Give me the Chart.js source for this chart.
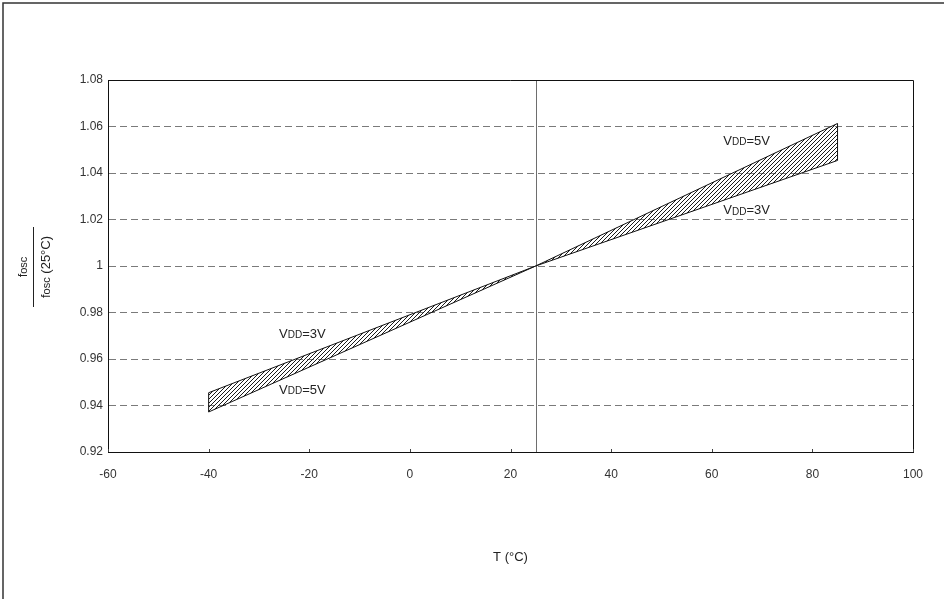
<!DOCTYPE html>
<html>
<head>
<meta charset="utf-8">
<script src="https://cdn.jsdelivr.net/npm/chart.js@4.4.0/dist/chart.umd.min.js"></script>
<style>
html,body{margin:0;padding:0;background:#fff;}
#wrap{width:944px;height:599px;position:relative;}
</style>
</head>
<body>
<div id="wrap"><canvas id="c" width="944" height="599"></canvas></div>
<script>
// ---- data ----
const temps = [-40, 25, 85];
const vdd3 = [0.9455, 1.000, 1.0454];
const vdd5 = [0.9372, 1.000, 1.0613];
const xTicks = [-60, -40, -20, 0, 20, 40, 60, 80, 100];
const yTicks = [0.92, 0.94, 0.96, 0.98, 1, 1.02, 1.04, 1.06, 1.08];
const refTemp = 25;
const labelTexts = ['=3V', '=5V', '=5V', '=3V'];
const labelX = [-26, -26, 62.3, 62.3];
const labelY = [0.9705, 0.9467, 1.0535, 1.0237];
const xTitle = 'T (°C)';

const FONT = '"Liberation Sans", Arial, sans-serif';

function makeHatch() {
  const s = 4;
  const pc = document.createElement('canvas');
  pc.width = s; pc.height = s;
  const g = pc.getContext('2d');
  g.strokeStyle = '#1a1a1a';
  g.lineWidth = 1;
  g.beginPath();
  g.moveTo(0, s); g.lineTo(s, 0);
  g.moveTo(-1, 1); g.lineTo(1, -1);
  g.moveTo(s - 1, s + 1); g.lineTo(s + 1, s - 1);
  g.stroke();
  return g.createPattern(pc, 'repeat');
}

const decor = {
  id: 'decor',
  beforeDatasetsDraw(chart) {
    const {ctx, chartArea: a, scales: {x, y}} = chart;
    ctx.save();
    const px = Math.round(x.getPixelForValue(refTemp)) + 0.5;
    ctx.strokeStyle = '#6e6e6e';
    ctx.lineWidth = 1;
    ctx.beginPath();
    ctx.moveTo(px, a.top); ctx.lineTo(px, a.bottom);
    ctx.stroke();
    ctx.restore();
  },
  afterDatasetsDraw(chart) {
    const {ctx, scales: {x, y}} = chart;
    ctx.save();
    ctx.strokeStyle = '#111';
    ctx.lineWidth = 1;
    ctx.beginPath();
    [0, temps.length - 1].forEach(i => {
      const px = x.getPixelForValue(temps[i]);
      ctx.moveTo(px, y.getPixelForValue(vdd3[i]));
      ctx.lineTo(px, y.getPixelForValue(vdd5[i]));
    });
    ctx.stroke();
    ctx.restore();
  },
  afterDraw(chart) {
    const {ctx, chartArea: a, scales: {x, y}} = chart;
    ctx.save();
    ctx.strokeStyle = '#111';
    ctx.lineWidth = 1;
    ctx.beginPath();
    const t = Math.round(a.top) + 0.5, r = Math.round(a.right) + 0.5;
    ctx.moveTo(a.left, t); ctx.lineTo(r, t); ctx.lineTo(r, a.bottom);
    ctx.stroke();
    ctx.beginPath();
    xTicks.forEach(v => {
      const p = Math.round(x.getPixelForValue(v)) + 0.5;
      ctx.moveTo(p, a.bottom); ctx.lineTo(p, a.bottom - 3);
    });
    ctx.strokeStyle = '#444';
    ctx.stroke();
    ctx.strokeStyle = '#333';
    ctx.lineWidth = 1.5;
    ctx.beginPath();
    ctx.moveTo(3, chart.height); ctx.lineTo(3, 3); ctx.lineTo(chart.width, 3);
    ctx.stroke();

    ctx.fillStyle = '#222';
    ctx.textBaseline = 'middle';
    ctx.textAlign = 'left';
    labelTexts.forEach((txt, i) => {
      let px0 = x.getPixelForValue(labelX[i]);
      const py = y.getPixelForValue(labelY[i]);
      ctx.font = '13px ' + FONT;
      ctx.fillText('V', px0, py);
      px0 += ctx.measureText('V').width;
      ctx.font = '10px ' + FONT;
      ctx.fillText('DD', px0, py + 1);
      px0 += ctx.measureText('DD').width;
      ctx.font = '13px ' + FONT;
      ctx.fillText(txt, px0, py);
    });

    ctx.textAlign = 'center';
    ctx.font = '13px ' + FONT;
    ctx.fillText(xTitle, (a.left + a.right) / 2, 557);

    const cy = (a.top + a.bottom) / 2;
    ctx.translate(33, cy + 1);
    ctx.rotate(-Math.PI / 2);
    ctx.strokeStyle = '#222';
    ctx.lineWidth = 1;
    ctx.beginPath();
    ctx.moveTo(-40, 0.5); ctx.lineTo(40, 0.5);
    ctx.stroke();
    function fosc(cx, cyy, extra) {
      ctx.font = '13px ' + FONT;
      const wf = ctx.measureText('f').width;
      ctx.font = '11px ' + FONT;
      const wo = ctx.measureText('osc').width;
      ctx.font = '13px ' + FONT;
      const we = extra ? ctx.measureText(extra).width : 0;
      let sx = cx - (wf + wo + we) / 2;
      ctx.textAlign = 'left';
      ctx.font = '13px ' + FONT;
      ctx.fillText('f', sx, cyy);
      sx += wf;
      ctx.font = '11px ' + FONT;
      ctx.fillText('osc', sx, cyy + 1);
      sx += wo;
      if (extra) { ctx.font = '13px ' + FONT; ctx.fillText(extra, sx, cyy); }
    }
    fosc(0, -10, '');
    fosc(0, 13, ' (25°C)');
    ctx.restore();
  }
};

new Chart(document.getElementById('c'), {
  type: 'line',
  data: {
    datasets: [
      {
        label: 'VDD=3V',
        data: temps.map((t, i) => ({x: t, y: vdd3[i]})),
        borderColor: '#111',
        borderWidth: 1,
        pointRadius: 0,
        fill: false,
        tension: 0
      },
      {
        label: 'VDD=5V',
        data: temps.map((t, i) => ({x: t, y: vdd5[i]})),
        borderColor: '#111',
        borderWidth: 1,
        pointRadius: 0,
        fill: '-1',
        backgroundColor: makeHatch(),
        tension: 0
      }
    ]
  },
  options: {
    responsive: false,
    animation: false,
    devicePixelRatio: 1,
    layout: {padding: {left: 0, right: 31, top: 80, bottom: 0}},
    plugins: {legend: {display: false}, tooltip: {enabled: false}},
    scales: {
      x: {
        type: 'linear',
        min: -60, max: 100,
        afterFit(s) { s.height = 147; },
        afterBuildTicks(s) { s.ticks = xTicks.map(v => ({value: v})); },
        grid: {display: false, drawTicks: false},
        border: {display: true, color: '#111', width: 1},
        ticks: {padding: 15, color: '#333', font: {family: FONT, size: 12}, callback: v => String(v)}
      },
      y: {
        type: 'linear',
        min: 0.92, max: 1.08,
        afterFit(s) { s.width = 108; },
        afterBuildTicks(s) { s.ticks = yTicks.map(v => ({value: v})); },
        grid: {
          drawTicks: false,
          color: c => (c.tick && (c.tick.value <= 0.921 || c.tick.value >= 1.079)) ? 'rgba(0,0,0,0)' : '#7a7a7a',
          lineWidth: 1
        },
        border: {display: true, color: '#111', width: 1, dash: [7, 4]},
        ticks: {padding: 5, color: '#333', font: {family: FONT, size: 12}, callback: v => String(+v.toFixed(2))}
      }
    }
  },
  plugins: [decor]
});
</script>
</body>
</html>
